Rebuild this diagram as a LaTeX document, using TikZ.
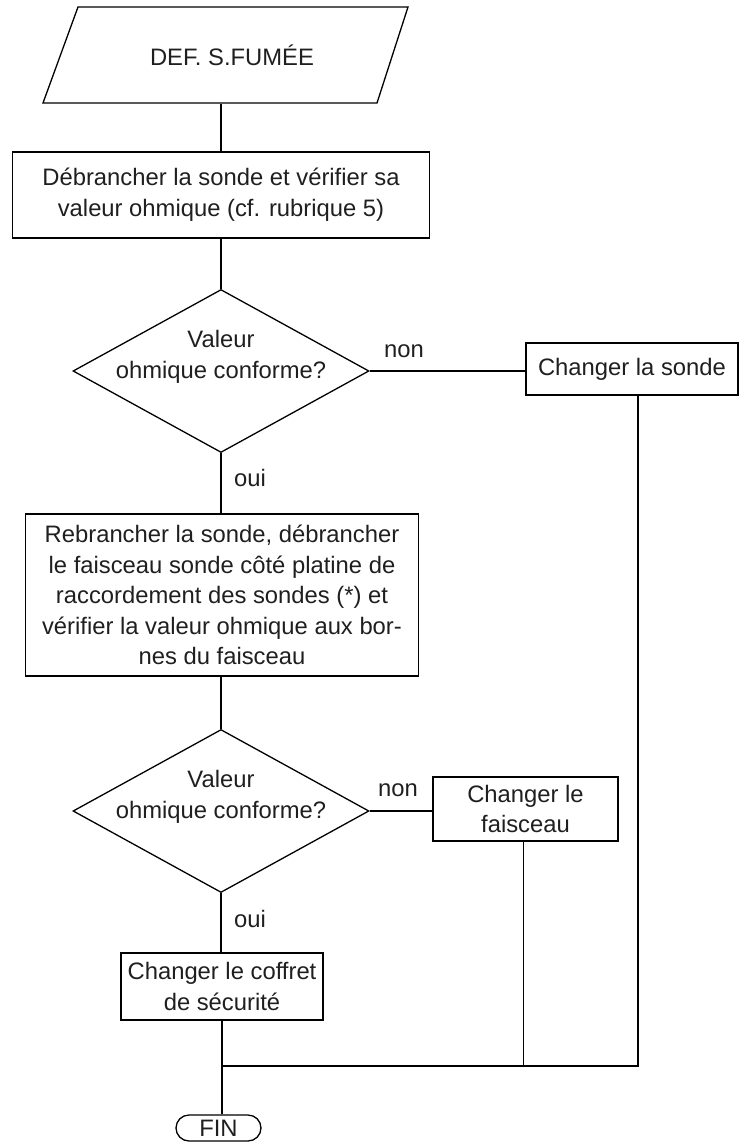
\documentclass[tikz,border=0pt]{standalone}
\usepackage{fontspec}
\setmainfont{Liberation Sans}
\usetikzlibrary{shapes.geometric,calc}
\begin{document}
\begin{tikzpicture}[x=0.5pt,y=-0.5pt, line width=0.65pt,
  every node/.style={font=\fontsize{11.9}{15.3}\selectfont, text=black!88},
  box/.style={draw, rectangle, inner sep=0pt, align=center},
  dia/.style={draw, diamond, inner sep=0pt, minimum width=148pt, minimum height=81.5pt},
  dtext/.style={inner sep=0pt, align=center},
  lbl/.style={anchor=base, inner sep=0pt}]
\useasboundingbox (0,0) rectangle (739,1146);

% start parallelogram
\node[inner sep=0pt, minimum height=48pt, minimum width=150pt] (start) at (232,55) {DEF. S.FUM\'EE};
\draw (78,7) -- (408,7) -- (377,103) -- (43,103) -- cycle;

\node[box, minimum width=208.5pt, minimum height=43pt] (b1) at (221,195)
  {Débrancher la sonde et vérifier sa\\valeur ohmique (cf. rubrique 5)};

\node[dia] (d1) at (221,371) {};
\node[dtext] (d1t) at ($(d1.center)+(0,-14)$) {Valeur\\ohmique conforme?};

\node[box, minimum width=106pt, minimum height=26pt] (sonde) at (632,369) {Changer la sonde};
\node[lbl] (non1) at (404,357) {non};
\node[lbl] (oui1) at (250,486) {oui};

\node[box, minimum width=196.5pt, minimum height=81pt] (b2) at (222,595)
  {Rebrancher la sonde, débrancher\\le faisceau sonde côté platine de\\raccordement des sondes (*) et\\vérifier la valeur ohmique aux bor-\\nes du faisceau};

\node[dia] (d2) at (221,811) {};
\node[dtext] (d2t) at ($(d2.center)+(0,-14)$) {Valeur\\ohmique conforme?};

\node[box, minimum width=92.5pt, minimum height=32pt] (fais) at (525.5,809) {Changer le\\faisceau};
\node[lbl] (non2) at (398,796) {non};
\node[lbl] (oui2) at (250,927) {oui};

\node[box, minimum width=101pt, minimum height=33.5pt] (coffret) at (222,986.5) {Changer le coffret\\de sécurité};

\node[draw, rounded corners=6.5pt, inner sep=0pt, minimum width=42.5pt, minimum height=13pt] (fin) at (218.5,1128) {FIN};

\coordinate (j) at (222,1066);

% connectors
\draw (start.south -| b1.north) -- (b1.north);
\draw (b1.south) -- (d1.north);
\draw (d1.east) -- (d1.east -| sonde.west);
\draw (d1.south) -- (d1.south |- b2.north);
\draw (b2.south -| d2.north) -- (d2.north);
\draw (d2.east) -- (d2.east -| fais.west);
\draw (d2.south) -- (d2.south |- coffret.north);
\draw (coffret.south) -- (coffret.south |- fin.north);
\draw ([xshift=3pt]sonde.south) |- (j);
\draw ([xshift=-1pt]fais.south) -- ([xshift=-1pt]fais.south |- j);
\end{tikzpicture}
\end{document}
